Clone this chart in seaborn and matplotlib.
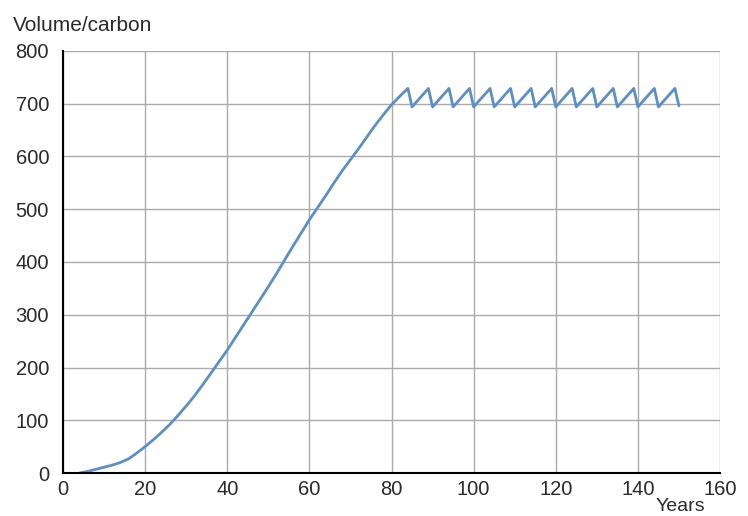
import matplotlib
matplotlib.use("Agg")
import matplotlib.pyplot as plt
import seaborn as sns
import pandas as pd

# growth phase (years, volume)
growth_years = [4, 6, 8, 10, 12, 14, 16, 18, 20, 22, 24, 26, 28, 30, 32, 34, 36, 38, 40,
                42, 44, 46, 48, 50, 52, 54, 56, 58, 60, 62, 64, 66, 68, 70, 72, 74, 76,
                78, 80, 82, 84]
growth_vol = [0, 3, 7, 11, 15, 20, 27, 38, 50, 63, 77, 92, 109, 127, 146, 167, 189, 211, 233,
              257, 281, 305, 329, 353, 378, 404, 430, 455, 480, 503, 526, 550, 573, 594, 615,
              637, 659, 679, 698, 714, 729]

# thinning cycles after year 84
cycle_years = [85, 89, 90, 94, 95, 99, 100, 104, 105, 109, 110, 114, 115, 119, 120, 124,
               125, 129, 130, 134, 135, 139, 140, 144, 145, 149, 150]
cycle_vol = [694, 729, 694, 729, 694, 729, 694, 729, 694, 729, 694, 729, 694, 729, 694, 729,
             694, 729, 694, 729, 694, 729, 694, 729, 694, 729, 696]

x_ticks = [0, 20, 40, 60, 80, 100, 120, 140, 160]
y_ticks = [0, 100, 200, 300, 400, 500, 600, 700, 800]

df = pd.DataFrame({"Years": growth_years + cycle_years,
                   "Volume": growth_vol + cycle_vol})

sns.set_style("white")
plt.rcParams['font.family'] = ['Liberation Sans', 'DejaVu Sans']

fig = plt.figure(figsize=(7.48, 5.16), dpi=100)
ax = fig.add_axes([0.0842, 0.0833, 0.8784, 0.8179])

sns.lineplot(data=df, x="Years", y="Volume", ax=ax, color="#5b8fca", linewidth=2.0,
             sort=False, estimator=None)

ax.set_xlim(0, 160)
ax.set_ylim(0, 800)
ax.set_xticks(x_ticks)
ax.set_yticks(y_ticks)
ax.grid(True, color="#aaaaaa", linewidth=1.0)
ax.set_axisbelow(True)
for s in ["top", "right"]:
    ax.spines[s].set_visible(False)
for s in ["left", "bottom"]:
    ax.spines[s].set_color("black")
    ax.spines[s].set_linewidth(1.5)

ax.tick_params(axis="y", direction="out", length=9, width=1.5, color="black",
               labelsize=14.5, pad=1, labelcolor="#2a2a2a")
ax.tick_params(axis="x", length=0, labelsize=14.5, pad=5, labelcolor="#2a2a2a")
ax.set_xlabel("")
ax.set_ylabel("")

fig.text(0.017, 0.951, "Volume/carbon", fontsize=15, color="#2a2a2a", va="center", ha="left")
fig.text(0.943, 0.009, "Years", fontsize=14, color="#2a2a2a", va="baseline", ha="right")

fig.savefig("out.png", dpi=100)
